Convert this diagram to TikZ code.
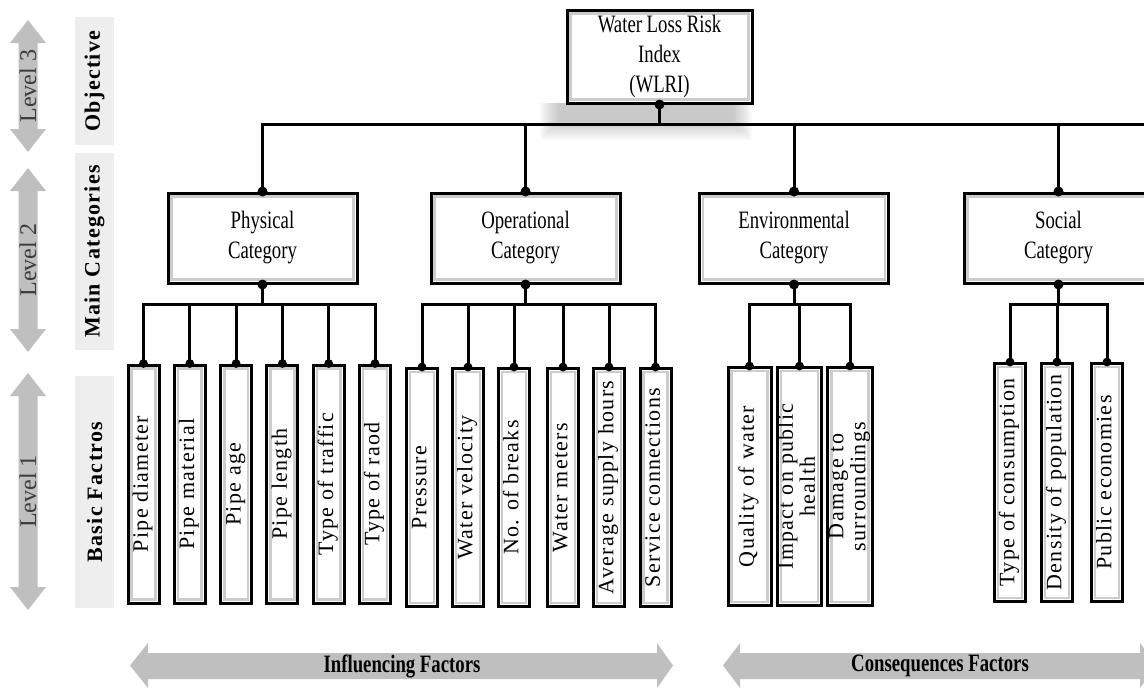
\documentclass[tikz,border=0pt]{standalone}
\usepackage{fontspec}
\usepackage{graphicx}
\usepackage{tikz}
\usetikzlibrary{positioning}
\setmainfont{Liberation Serif}
\newfontfamily\catfont{Liberation Serif}[FakeStretch=0.75]
\newfontfamily\leaffont{Liberation Serif}[LetterSpace=6]
\newfontfamily\sidefont{Liberation Serif}[LetterSpace=6]
\definecolor{arrowgray}{RGB}{191,191,191}
\definecolor{labelgray}{RGB}{238,238,238}
\definecolor{levelink}{RGB}{60,60,60}
\newcommand\leaftext[1]{\rotatebox{90}{\begin{tabular}{@{}c@{}}#1\end{tabular}}}
\renewcommand{\arraystretch}{0.85}

\tikzset{
  bevelbox/.style={draw=black, line width=1.5pt, fill=white, inner sep=0pt, align=center,
    path picture={\draw[black!20, line width=1.3pt]
      ([shift={(1.8pt,-1.8pt)}]path picture bounding box.north west) rectangle
      ([shift={(-1.8pt,1.8pt)}]path picture bounding box.south east);}},
  topbox/.style={bevelbox, minimum width=92.5pt, minimum height=46.5pt,
    font=\catfont\fontsize{12.5}{15}\selectfont},
  catbox/.style={bevelbox, minimum width=94.5pt, minimum height=45pt,
    font=\catfont\fontsize{12.5}{15}\selectfont},
  leafbox/.style={bevelbox, minimum width=15.5pt, minimum height=119pt,
    font=\leaffont\fontsize{11}{13}\selectfont},
  wide/.style={leafbox, minimum width=21.5pt},
  wire/.style={line width=1.5pt, black},
  sidelabel/.style={fill=labelgray, rotate=90, minimum height=19.5pt, inner sep=0pt,
    font=\sidefont\bfseries\fontsize{11}{13}\selectfont},
  levellabel/.style={rotate=90, text=levelink, inner sep=0pt, font=\fontsize{12}{14}\selectfont},
  bandlabel/.style={inner sep=0pt, font=\catfont\bfseries\fontsize{12.5}{15}\selectfont},
}

\begin{document}
\begin{tikzpicture}[x=0.5pt, y=-0.5pt, line join=miter]
  \useasboundingbox (0,0) rectangle (1144,692);
  \clip (0,0) rectangle (1144,692);

  % level arrows on the left
  \foreach \ytop/\ybot/\lab/\nm in {20/152/Level 3/lvlc, 168/352/Level 2/lvlb, 373/610/Level 1/lvla} {
    \fill[arrowgray] (28,\ytop) -- (46,\ytop+23) -- (37.5,\ytop+23) -- (37.5,\ybot-23)
      -- (46,\ybot-23) -- (28,\ybot) -- (10,\ybot-23) -- (18.5,\ybot-23)
      -- (18.5,\ytop+23) -- (10,\ytop+23) -- cycle;
    \node[levellabel] (\nm) at (28,{(\ytop+\ybot)/2}) {\lab};
  }

  % level names
  \node[sidelabel, minimum width=64pt] (objective) at (94.5,81) {Objective};
  \node[sidelabel, minimum width=98.5pt] (maincat) at (94.5,251.5) {Main Categories};
  \node[sidelabel, minimum width=116pt] (basic) at (94.5,492) {Basic Factros};

  % soft shadow under the objective
  \foreach \d in {0,2,...,18} {\fill[black, opacity=0.025] (540+\d,103) rectangle (752-\d,140-\d);}

  % boxes
  \node[topbox] (wlri) at (659.5,56.5) {Water Loss Risk\\Index\\(WLRI)};
  \node[catbox] (phys) at (262.5,238) {Physical\\Category};
  \node[catbox] (oper) at (525.5,238) {Operational\\Category};
  \node[catbox] (envi) at (794,238) {Environmental\\Category};
  \node[catbox] (soci) at (1058.5,238) {Social\\Category};

  \foreach \i/\x/\t in {1/143.5/Pipe diameter, 2/189.8/Pipe material, 3/236.1/Pipe age,
      4/282.4/Pipe length, 5/328.7/Type of traffic, 6/375/Type of raod}
    \node[leafbox] (phys\i) at (\x,484) {\leaftext{\t}};
  \foreach \i/\x/\t in {1/422/Pressure, 2/468/Water velocity, 3/514/No. of breaks,
      4/563/Water meters, 5/609/Average supply hours, 6/655.5/Service connections}
    \node[leafbox] (oper\i) at (\x,487.5) {\leaftext{\t}};
  \node[wide] (envi1) at (749.5,486.5) {\leaftext{Quality of water}};
  \node[wide] (envi2) at (799.5,486.5) {\leaftext{Impact on public\\health}};
  \node[wide] (envi3) at (850,486.5) {\leaftext{Damage to\\surroundings}};
  \foreach \i/\x/\t in {1/1010/Type of consumption, 2/1057/Density of population,
      3/1107/Public economies}
    \node[leafbox] (soci\i) at (\x,482.5) {\leaftext{\t}};

  % connectors
  \coordinate[below=10pt of wlri.south] (topbus);
  \coordinate[right=300pt of topbus] (busend);
  \draw[wire] (wlri.south) -- (topbus);
  \draw[wire] (topbus) -- (busend);
  \foreach \c in {phys,oper,envi,soci} {
    \draw[wire] (topbus) -| (\c.north);
    \fill (\c.north) circle (2.5pt);
  }
  \fill (wlri.south) circle (2.5pt);
  \foreach \c/\n in {phys/6,oper/6,envi/3,soci/3} {
    \coordinate[below=10pt of \c.south] (\c-bus);
    \draw[wire] (\c.south) -- (\c-bus);
    \foreach \i in {1,...,\n} {
      \draw[wire] (\c-bus) -| (\c\i.north);
      \fill (\c\i.north) circle (2.2pt);
    }
    \fill (\c.south) circle (2.5pt);
  }

  % factor bands at the bottom
  \fill[arrowgray] (130,665.5) -- (148,643) -- (148,653) -- (657,653) -- (657,643) -- (673,665.5)
    -- (657,688) -- (657,679) -- (148,679) -- (148,688) -- cycle;
  \node[bandlabel] (influencing) at (402,666) {Influencing Factors};
  \fill[arrowgray] (723,665.5) -- (740,643) -- (740,653) -- (1140,653) -- (1140,643) -- (1157,665.5)
    -- (1140,688) -- (1140,679) -- (740,679) -- (740,688) -- cycle;
  \node[bandlabel] (consequences) at (940,666) {Consequences Factors};
\end{tikzpicture}
\end{document}
